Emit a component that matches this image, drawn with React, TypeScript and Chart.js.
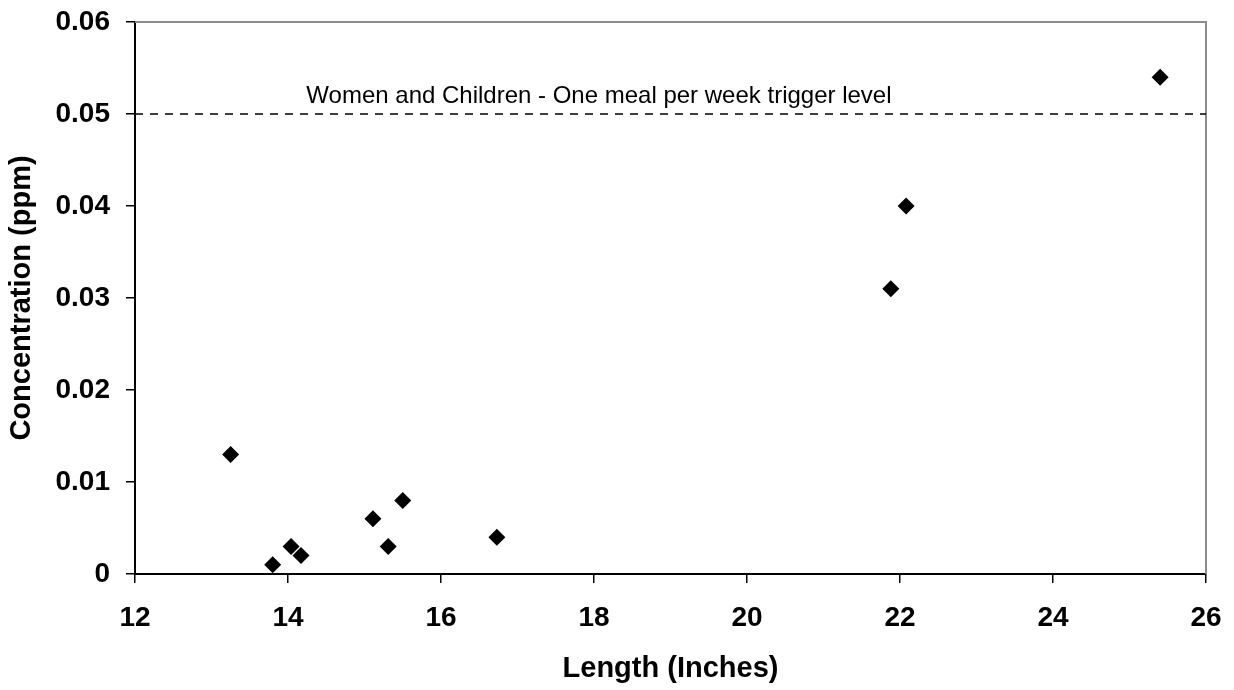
import React, { useEffect, useRef } from "react";
import { Chart, registerables } from "chart.js";

Chart.register(...registerables);

const lengths = [13.25, 13.8, 14.04, 14.17, 15.11, 15.31, 15.5, 16.73, 21.88, 22.08, 25.4];
const concentrations = [0.013, 0.001, 0.003, 0.002, 0.006, 0.003, 0.008, 0.004, 0.031, 0.04, 0.054];

const triggerLevel = 0.05;
const triggerRange = [12, 26];
const triggerLabel = "Women and Children - One meal per week trigger level";
const triggerLabelX = 14.24;

const xTickValues = [12, 14, 16, 18, 20, 22, 24, 26];
const yTickLabels = ["0", "0.01", "0.02", "0.03", "0.04", "0.05", "0.06"];

const xTitle = "Length (Inches)";
const yTitle = "Concentration (ppm)";

const FONT = "'Liberation Sans', Arial, sans-serif";

export default function App() {
  const ref = useRef<HTMLCanvasElement | null>(null);

  useEffect(() => {
    if (!ref.current) return;

    const framePlugin = {
      id: "frameAndLabel",
      beforeDatasetsDraw(chart: any) {
        const { ctx, chartArea } = chart;
        ctx.save();
        ctx.strokeStyle = "#8c8c8c";
        ctx.lineWidth = 2;
        ctx.beginPath();
        ctx.moveTo(chartArea.left, chartArea.top);
        ctx.lineTo(chartArea.right, chartArea.top);
        ctx.lineTo(chartArea.right, chartArea.bottom);
        ctx.stroke();
        ctx.restore();
      },
      afterDatasetsDraw(chart: any) {
        const { ctx } = chart;
        const xs = chart.scales.x;
        const ys = chart.scales.y;
        ctx.save();
        ctx.fillStyle = "#000";
        ctx.font = `24px ${FONT}`;
        ctx.textAlign = "left";
        ctx.textBaseline = "alphabetic";
        ctx.fillText(triggerLabel, xs.getPixelForValue(triggerLabelX), ys.getPixelForValue(triggerLevel) - 11);
        ctx.restore();
      },
    };

    const chart = new Chart(ref.current, {
      type: "scatter",
      data: {
        datasets: [
          {
            label: "Samples",
            data: lengths.map((x, i) => ({ x, y: concentrations[i] })),
            pointStyle: "rectRot",
            pointRadius: 8.5,
            pointHoverRadius: 8.5,
            backgroundColor: "#000",
            borderColor: "#000",
            borderWidth: 0,
            showLine: false,
          },
          {
            type: "line",
            label: "Trigger",
            data: triggerRange.map((x) => ({ x, y: triggerLevel })),
            borderColor: "#000",
            borderWidth: 1.5,
            borderDash: [8, 7],
            pointRadius: 0,
            showLine: true,
            fill: false,
          } as any,
        ],
      },
      options: {
        animation: false,
        responsive: false,
        events: [],
        layout: { padding: { top: 22, right: 28, left: 0, bottom: 0 } },
        plugins: {
          legend: { display: false },
          tooltip: { enabled: false },
        },
        scales: {
          x: {
            type: "linear",
            min: 12,
            max: 26,
            afterBuildTicks: (scale: any) => {
              scale.ticks = xTickValues.map((v) => ({ value: v }));
            },
            afterFit: (scale: any) => {
              scale.height = 116;
              scale.paddingLeft = 0;
              scale.paddingRight = 0;
            },
            ticks: {
              color: "#000",
              padding: 18,
              font: { family: FONT, size: 28, weight: "bold" },
              callback: (v: any) => String(v),
              maxRotation: 0,
            },
            grid: {
              drawOnChartArea: false,
              drawTicks: true,
              tickLength: 9,
              color: "#000",
              lineWidth: 1.5,
            },
            border: { color: "#000", width: 2 },
            title: {
              display: true,
              text: xTitle,
              color: "#000",
              font: { family: FONT, size: 29, weight: "bold" },
              padding: { top: 4, bottom: 4 },
            },
          },
          y: {
            type: "linear",
            min: 0,
            max: 0.06,
            afterBuildTicks: (scale: any) => {
              scale.ticks = yTickLabels.map((l) => ({ value: parseFloat(l) }));
            },
            afterFit: (scale: any) => {
              scale.width = 135;
              scale.paddingTop = 0;
              scale.paddingBottom = 0;
            },
            ticks: {
              color: "#000",
              padding: 16,
              font: { family: FONT, size: 28, weight: "bold" },
              callback: (_v: any, i: number) => yTickLabels[i],
            },
            grid: {
              drawOnChartArea: false,
              drawTicks: true,
              tickLength: 9,
              color: "#000",
              lineWidth: 1.5,
            },
            border: { color: "#000", width: 2 },
            title: {
              display: true,
              text: yTitle,
              color: "#000",
              font: { family: FONT, size: 29, weight: "bold" },
              padding: { top: 5, bottom: 5 },
            },
          },
        },
      },
      plugins: [framePlugin],
    } as any);

    return () => chart.destroy();
  }, []);

  return (
    <div style={{ position: "absolute", left: 0, top: 0, width: 1234, height: 690, background: "#fff" }}>
      <canvas ref={ref} width={1234} height={690} style={{ width: 1234, height: 690, display: "block" }} />
    </div>
  );
}
